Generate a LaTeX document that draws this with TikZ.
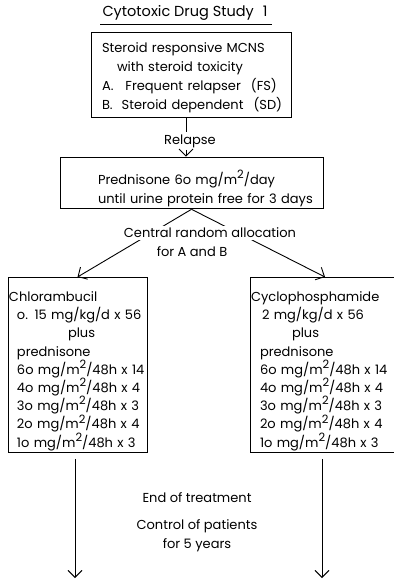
\documentclass[tikz,border=0pt]{standalone}
\usepackage{fontspec}
\setmainfont{Poppins}
\usetikzlibrary{arrows.meta,positioning}

% raised square sign used in the doses
\newcommand{\msq}{m\smash{\raisebox{.45em}{\fontsize{11.5}{11.5}\selectfont 2}}}

\begin{document}
\begin{tikzpicture}[%
	x=1pt,y=-1pt,line width=0.9pt,
	>={Straight Barb[length=7pt,width=14pt]},
	every node/.style={font=\fontsize{13}{19}\selectfont,inner sep=0pt},
	stepbox/.style={draw,align=left,inner ysep=0pt},
	armbox/.style={stepbox,font=\fontsize{13}{18.2}\selectfont,
		minimum height=174pt,inner xsep=1pt},
	label/.style={fill=white,inner sep=2pt}]

	\useasboundingbox (0,0) rectangle (393,580);

	\node[font=\fontsize{14.5}{19}\selectfont] (title) at (185,13)
		{Cytotoxic Drug Study\hspace{9pt}1};
	\draw ([xshift=-2pt,yshift=-4pt]title.south west)
		-- ([xshift=4pt,yshift=-4pt]title.south east);

	\node[stepbox,text width=178pt,inner xsep=11pt,minimum height=85pt]
		(cohort) at (191,74.5) {%
		\begin{tabular}{@{}l@{}}
		\rule{0pt}{19pt}Steroid responsive MCNS\\
		\hspace*{15pt}with steroid toxicity\\
		A.\hspace{12pt}Frequent relapser\hspace{10pt}(FS)\\
		B.\hspace{9pt}Steroid dependent\hspace{10pt}(SD)
		\end{tabular}
	};

	\node[label] (relapse) at (190,141) {Relapse};

	\node[stepbox,text width=187pt,inner xsep=38pt,minimum height=44pt]
		(pred) at (191.5,183) {%
		\begin{tabular}{@{}l@{}}
		\rule{0pt}{27pt}Prednisone 6o mg/\msq/day\\
		until urine protein free for 3 days
		\end{tabular}
	};

	\node[armbox,text width=137pt] (chl) at (77.5,365) {%
		\begin{tabular}{@{}l@{}}
		\rule{0pt}{24pt}Chlorambucil\\
		\hspace*{8pt}o. 15 mg/kg/d x 56\\
		\hspace*{59pt}plus\\
		\hspace*{8pt}prednisone\\
		\hspace*{8pt}6o mg/\msq/48h x 14\\
		\hspace*{8pt}4o mg/\msq/48h x 4\\
		\hspace*{8pt}3o mg/\msq/48h x 3\\
		\hspace*{8pt}2o mg/\msq/48h x 4\\
		\hspace*{8pt}1o mg/\msq/48h x 3
		\end{tabular}
	};

	\node[armbox,text width=148pt] (cyc) at (325,365) {%
		\begin{tabular}{@{}l@{}}
		\rule{0pt}{24pt}Cyclophosphamide\\
		\hspace*{11pt}2 mg/kg/d x 56\\
		\hspace*{41pt}plus\\
		\hspace*{9pt}prednisone\\
		\hspace*{9pt}6o mg/\msq/48h x 14\\
		\hspace*{9pt}4o mg/\msq/48h x 4\\
		\hspace*{9pt}3o mg/\msq/48h x 3\\
		\hspace*{9pt}2o mg/\msq/48h x 4\\
		\hspace*{9pt}1o mg/\msq/48h x 3
		\end{tabular}
	};

	\draw ([xshift=-5pt]cohort.south) -- ([xshift=-4pt]relapse.north);
	\draw[->] ([xshift=-4pt]relapse.south) -- ([xshift=-5.5pt]pred.north);

	\draw[->] (pred.south) -- (chl.north);
	\draw[->] (pred.south) -- (cyc.north);
	\node[label] (alloc) at (210,233) {Central random allocation};
	\node[label] (allocb) at (192,252) {for A and B};

	\coordinate (chlend) at (75,578);
	\coordinate (cycend) at (322,578);
	\draw[->] ([xshift=-2.5pt,yshift=-6pt]chl.south) -- (chlend);
	\draw[->] ([xshift=-3pt,yshift=-6pt]cyc.south) -- (cycend);

	\node (endtr) at (197,498) {End of treatment};
	\node[align=center] (control) at (197,535.5) {%
		Control of patients\\for 5 years};

\end{tikzpicture}
\end{document}
